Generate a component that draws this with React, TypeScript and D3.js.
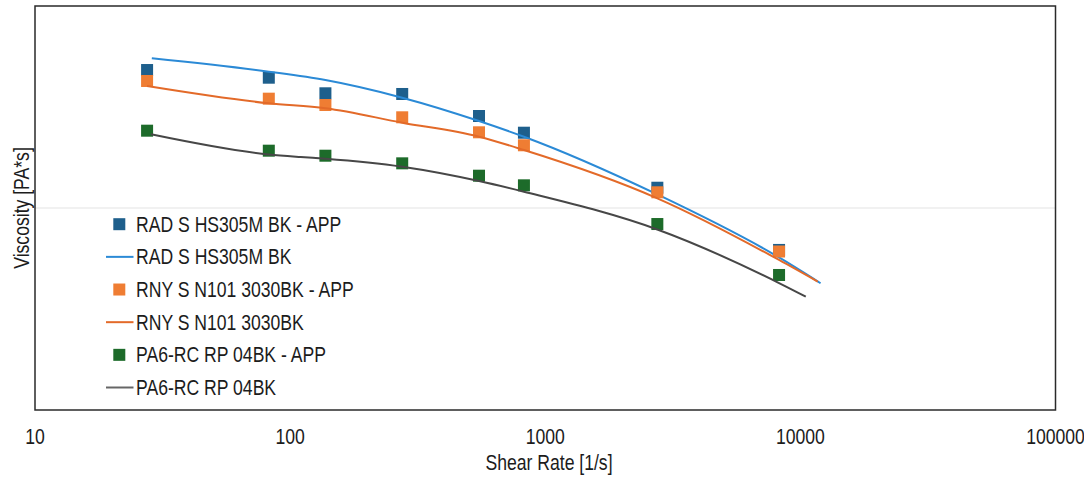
import React from "react";
import * as d3 from "d3";

// Shear rates of the measured points [1/s]
const shearRates = [27.5, 82.5, 137.5, 275, 550, 825, 2750, 8250];

// Measured viscosities [Pa*s]
const radMeasured = [482, 441.6, 369.7, 366.8, 285.4, 235.9, 126.0, 62.0];
const rnyMeasured = [425.4, 347.7, 323.5, 281.2, 237.0, 204.4, 119.6, 60.9];
const pa6Measured = [241.4, 192.2, 181.5, 166.4, 144.5, 129.5, 83.3, 46.6];

// Model curves (shear rate, viscosity)
const radFitRates = [28.7, 82.5, 137.5, 275, 550, 825, 2750, 8250, 12000];
const radFitVisc = [551, 473, 430, 351.6, 269.5, 225.4, 116.7, 56.9, 42.4];
const rnyFitRates = [27.5, 82.5, 137.5, 275, 550, 825, 2750, 8250, 11700];
const rnyFitVisc = [401.8, 329.8, 311.6, 264.5, 225.4, 193.7, 111.7, 55.3, 43.2];
const pa6FitRates = [28.5, 82.5, 110, 137.5, 275, 550, 825, 2750, 8250, 10500];
const pa6FitVisc = [231.7, 184.1, 178.8, 175.4, 160.2, 136.1, 120.4, 78.3, 42.5, 36.4];

const xTicks = [10, 100, 1000, 10000, 100000];

const legendLabels = [
  "RAD S HS305M BK - APP",
  "RAD S HS305M BK",
  "RNY S N101 3030BK - APP",
  "RNY S N101 3030BK",
  "PA6-RC RP 04BK - APP",
  "PA6-RC RP 04BK",
];

const W = 1084;
const H = 477;
const plot = { left: 35, top: 6, right: 1055.5, bottom: 410 };
const FONT = "'Liberation Sans', Arial, sans-serif";
const FS = 22;
const SX = 0.8; // narrow face
const TEXT = "#1c1c1c";

const x = d3.scaleLog().domain([10, 100000]).range([plot.left, plot.right]);
const y = d3.scaleLog().domain([10, 1000]).range([plot.bottom, plot.top]);

const zip = (xs: number[], ys: number[]) => xs.map((v, i) => [v, ys[i]] as [number, number]);

const line = d3
  .line<[number, number]>()
  .x((d) => x(d[0]))
  .y((d) => y(d[1]))
  .curve(d3.curveMonotoneX);

type Series = {
  kind: "points" | "line";
  color: string;
  data: [number, number][];
};

const series: Series[] = [
  { kind: "points", color: "#1e5f8c", data: zip(shearRates, radMeasured) },
  { kind: "line", color: "#2b8ad6", data: zip(radFitRates, radFitVisc) },
  { kind: "points", color: "#ef7d33", data: zip(shearRates, rnyMeasured) },
  { kind: "line", color: "#e36a29", data: zip(rnyFitRates, rnyFitVisc) },
  { kind: "points", color: "#1d6b2a", data: zip(shearRates, pa6Measured) },
  { kind: "line", color: "#474747", data: zip(pa6FitRates, pa6FitVisc) },
];

const legendLineColors = ["", "#2b8ad6", "", "#e36a29", "", "#666666"];

const MS = 12;

function Label(props: {
  x: number;
  y: number;
  anchor?: "start" | "middle" | "end";
  rotate?: boolean;
  children: React.ReactNode;
}) {
  const t = `translate(${props.x},${props.y})${props.rotate ? " rotate(-90)" : ""} scale(${SX},1)`;
  return (
    <text
      transform={t}
      textAnchor={props.anchor ?? "start"}
      fontFamily={FONT}
      fontSize={FS}
      fill={TEXT}
    >
      {props.children}
    </text>
  );
}

export default function App() {
  const legendBase = 231.7;
  const legendStep = 32.66;
  return (
    <svg
      width={W}
      height={H}
      viewBox={`0 0 ${W} ${H}`}
      style={{ position: "absolute", left: 0, top: 0, background: "#fff" }}
    >
      <rect x={0} y={0} width={W} height={H} fill="#fff" />
      {/* middle gridline (100 Pa*s) */}
      <line
        x1={plot.left}
        x2={plot.right}
        y1={y(100)}
        y2={y(100)}
        stroke="#e3e3e3"
        strokeWidth={1.2}
      />

      {/* series, drawn in legend order */}
      {series.map((s, i) =>
        s.kind === "line" ? (
          <path key={i} d={line(s.data) ?? ""} fill="none" stroke={s.color} strokeWidth={2} />
        ) : (
          <g key={i}>
            {s.data.map((d, j) => (
              <rect
                key={j}
                x={x(d[0]) - MS / 2}
                y={y(d[1]) - MS / 2}
                width={MS}
                height={MS}
                fill={s.color}
              />
            ))}
          </g>
        )
      )}

      {/* legend */}
      {legendLabels.map((lab, i) => {
        const base = legendBase + i * legendStep;
        const cy = base - 7.5;
        const s = series[i];
        return (
          <g key={lab}>
            {s.kind === "points" ? (
              <rect x={113.3} y={cy - 6} width={12} height={12} fill={s.color} />
            ) : (
              <line x1={106} x2={133.5} y1={cy} y2={cy} stroke={legendLineColors[i]} strokeWidth={2} />
            )}
            <Label x={136} y={base}>
              {lab}
            </Label>
          </g>
        );
      })}

      {/* plot frame */}
      <rect
        x={plot.left}
        y={plot.top}
        width={plot.right - plot.left}
        height={plot.bottom - plot.top}
        fill="none"
        stroke="#2a2a2a"
        strokeWidth={1.5}
      />

      {/* x tick labels */}
      {xTicks.map((t) => (
        <Label key={t} x={x(t)} y={444} anchor="middle">
          {String(t)}
        </Label>
      ))}

      <Label x={549} y={470} anchor="middle">
        Shear Rate [1/s]
      </Label>
      <Label x={29} y={(plot.top + plot.bottom) / 2} anchor="middle" rotate>
        Viscosity [PA*s]
      </Label>
    </svg>
  );
}
